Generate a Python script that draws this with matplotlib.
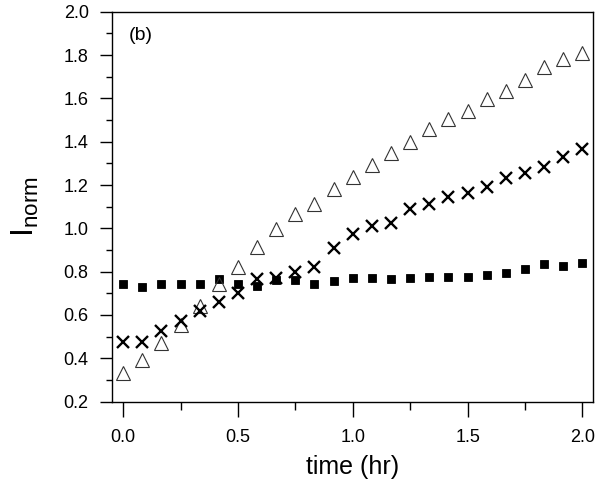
import matplotlib
matplotlib.use("Agg")
import matplotlib.pyplot as plt
from matplotlib.ticker import MultipleLocator

plt.rcParams['font.family'] = ['Liberation Sans', 'DejaVu Sans']
plt.rcParams['mathtext.fontset'] = 'custom'
plt.rcParams['mathtext.rm'] = 'Liberation Sans'

time_hr = [0, 1/12, 2/12, 3/12, 4/12, 5/12, 6/12, 7/12, 8/12, 9/12, 10/12, 11/12,
           1.0, 13/12, 14/12, 15/12, 16/12, 17/12, 18/12, 19/12, 20/12, 21/12, 22/12, 23/12, 2.0]

triangles = [0.331, 0.392, 0.469, 0.554, 0.641, 0.742, 0.820, 0.915, 0.995, 1.065, 1.112, 1.180,
             1.238, 1.292, 1.349, 1.400, 1.457, 1.503, 1.543, 1.597, 1.634, 1.684, 1.743, 1.781, 1.808]

crosses = [0.474, 0.474, 0.526, 0.572, 0.620, 0.661, 0.700, 0.766, 0.772, 0.800, 0.820, 0.911,
           0.974, 1.012, 1.023, 1.090, 1.112, 1.143, 1.162, 1.189, 1.231, 1.254, 1.284, 1.330, 1.366]

squares = [0.742, 0.731, 0.742, 0.742, 0.743, 0.766, 0.743, 0.734, 0.761, 0.761, 0.742, 0.758,
           0.769, 0.769, 0.765, 0.769, 0.777, 0.777, 0.777, 0.785, 0.795, 0.811, 0.834, 0.826, 0.838]

fig = plt.figure(figsize=(6.0, 4.88), dpi=100)
ax = fig.add_axes([0.186, 0.177, 0.802, 0.799])

ax.plot(time_hr, squares, linestyle='none', marker='s', ms=5.6, mfc='black', mec='black', mew=0.6, zorder=3)
ax.plot(time_hr, triangles, linestyle='none', marker='^', ms=9.5, mfc='none', mec='#333333', mew=0.8, zorder=4)
ax.plot(time_hr, crosses, linestyle='none', marker='x', ms=8, mec='black', mew=1.7, zorder=5)

ax.set_xlim(-0.05, 2.045)
ax.set_ylim(0.2, 2.0)
ax.xaxis.set_major_locator(MultipleLocator(0.5))
ax.xaxis.set_minor_locator(MultipleLocator(0.25))
ax.yaxis.set_major_locator(MultipleLocator(0.2))
ax.yaxis.set_minor_locator(MultipleLocator(0.1))
ax.set_xticks([0.0, 0.5, 1.0, 1.5, 2.0])
ax.set_xticklabels(['0.0', '0.5', '1.0', '1.5', '2.0'])

ax.tick_params(axis='x', which='major', direction='out', length=10.5, width=1.0, pad=9, labelsize=13)
ax.tick_params(axis='x', which='minor', direction='out', length=5.5, width=1.0)
ax.tick_params(axis='y', which='major', direction='out', length=8.5, width=1.0, pad=8, labelsize=13)
ax.tick_params(axis='y', which='minor', direction='out', length=4.5, width=1.0)
ax.tick_params(top=False, right=False, which='both')

for s in ax.spines.values():
    s.set_linewidth(1.0)
    s.set_color('black')

ax.set_xlabel('time (hr)', fontsize=18, labelpad=7)
ax.set_ylabel(r'$\mathregular{I_{norm}}$', fontsize=23, labelpad=16)

ax.text(0.036, 0.96, '(b)', transform=ax.transAxes, fontsize=14, ha='left', va='top')

fig.savefig('out.png', dpi=100)
